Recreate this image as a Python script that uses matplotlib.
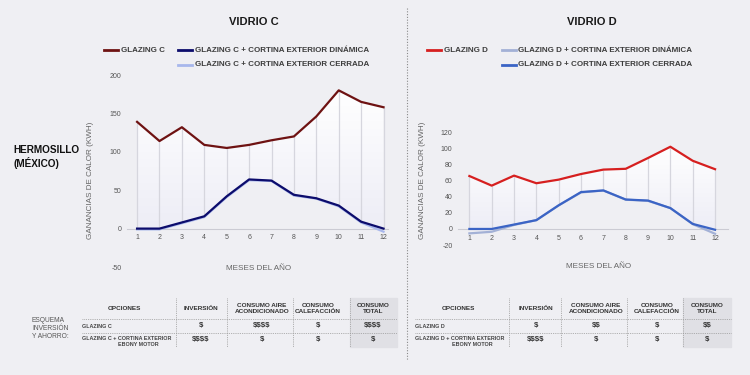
import matplotlib.pyplot as plt
import numpy as np
from matplotlib.colors import LinearSegmentedColormap
from matplotlib.lines import Line2D
from matplotlib.patches import Rectangle

plt.rcParams["font.family"] = ["Liberation Sans", "DejaVu Sans"]
plt.rcParams["text.parse_math"] = False
plt.rcParams["axes.unicode_minus"] = False

months = list(range(1, 13))

# VIDRIO C (kWh)
glazing_c = [139, 114, 132, 109, 105, 109, 115, 120, 146, 180, 165, 158]
dinamica_c = [0, 0, 8, 16, 42, 64, 62.5, 44, 39.5, 30, 9, 0]
cerrada_c = [-1, -1, 7, 15, 41, 63, 62, 43, 39, 29, 8, -4]

# VIDRIO D (kWh)
glazing_d = [66, 54, 66.5, 57, 61.5, 68.5, 74, 75, 88.5, 102.5, 85, 74.5]
dinamica_d = [-5.5, -3.5, 5, 11, 29.5, 45.5, 48, 36.5, 35, 26, 6, -6]
cerrada_d = [0, 0, 5.5, 11, 29.5, 46, 48, 36.7, 35.4, 26, 6.3, -1]

yticks_c = [-50, 0, 50, 100, 150, 200]
yticks_d = [-20, 0, 20, 40, 60, 80, 100, 120]

table_cols = ["OPCIONES", "INVERSIÓN", "CONSUMO AIRE\nACONDICIONADO",
              "CONSUMO\nCALEFACCIÓN", "CONSUMO\nTOTAL"]
rows_c = ["GLAZING C", "GLAZING C + CORTINA EXTERIOR"]
rows_d = ["GLAZING D", "GLAZING D + CORTINA EXTERIOR"]
values_c = [["$", "$$$$", "$", "$$$$"], ["$$$$", "$", "$", "$"]]
values_d = [["$", "$$", "$", "$$"], ["$$$$", "$", "$", "$"]]

BG = "#efeff3"
W, H = 750, 375


def fx(x):
    return x / W


def fy(y):
    return 1 - y / H


def draw_chart(ax, upper, lower_a, lower_b, colors, yticks, xlim, top_first):
    ax.set_facecolor("none")
    for s in ["left", "right", "top"]:
        ax.spines[s].set_visible(False)
    ax.spines["bottom"].set_position(("data", 0))
    ax.spines["bottom"].set_color("#cbcbd3")
    ax.spines["bottom"].set_linewidth(0.8)

    lower = np.array(lower_b if top_first else lower_a)
    up = np.array(upper)
    x = np.array(months)

    # gradient fill between series, clipped to the band
    poly = ax.fill_between(x, lower, up, color="none", lw=0)
    cmap = LinearSegmentedColormap.from_list("band", ["#ededf6", "#ffffff"])
    grad = np.linspace(1, 0, 256).reshape(-1, 1)
    img = ax.imshow(grad, cmap=cmap, aspect="auto", zorder=1,
                    extent=[x[0], x[-1], lower.min(), up.max()])
    img.set_clip_path(poly.get_paths()[0], transform=ax.transData)
    ax.vlines(x, lower, up, color="#d6d6de", lw=0.9, zorder=2)

    if top_first:
        ax.plot(x, lower_a, color=colors[1], lw=1.6, zorder=3)
        ax.plot(x, lower_b, color=colors[2], lw=1.6, zorder=4)
    else:
        ax.plot(x, lower_b, color=colors[2], lw=1.6, zorder=3)
        ax.plot(x, lower_a, color=colors[1], lw=1.6, zorder=4)
    ax.plot(x, up, color=colors[0], lw=1.6, zorder=5)

    ax.set_xlim(*xlim)
    ax.set_ylim(yticks[0], yticks[-1])
    ax.set_xticks(months)
    ax.set_yticks(yticks)
    ax.tick_params(length=0, labelsize=5, labelcolor="#555555")
    ax.tick_params(axis="x", pad=4)
    ax.tick_params(axis="y", pad=4)


fig = plt.figure(figsize=(7.5, 3.75), dpi=100, facecolor=BG)

colors_c = ["#6e1212", "#0c0c6c", "#a8b7ec"]
colors_d = ["#d61f1f", "#a3b1d6", "#3b64c5"]

ax_c = fig.add_axes([fx(127), fy(267), fx(388 - 127), (267 - 75) / H])
draw_chart(ax_c, glazing_c, dinamica_c, cerrada_c, colors_c, yticks_c,
           (0.55, 12.2), top_first=False)
ax_d = fig.add_axes([fx(458), fy(245), fx(728 - 458), (245 - 132.7) / H])
draw_chart(ax_d, glazing_d, dinamica_d, cerrada_d, colors_d, yticks_d,
           (0.49, 12.58), top_first=True)

label_kw = dict(fontsize=5.9, color="#666666", ha="center", va="center")
fig.text(fx(91), fy(180), "GANANCIAS DE CALOR (KWH)", rotation=90, **label_kw)
fig.text(fx(423), fy(180), "GANANCIAS DE CALOR (KWH)", rotation=90, **label_kw)
fig.text(fx(259), fy(268), "MESES DEL AÑO", **label_kw)
fig.text(fx(599), fy(267), "MESES DEL AÑO", **label_kw)

fig.text(fx(254), fy(22), "VIDRIO C", fontsize=8, fontweight="bold",
         color="#1a1a1a", ha="center", va="center")
fig.text(fx(592), fy(22), "VIDRIO D", fontsize=8, fontweight="bold",
         color="#1a1a1a", ha="center", va="center")

fig.text(fx(13), fy(150), "HERMOSILLO", fontsize=7.2, fontweight="bold",
         color="#111111", va="center")
fig.text(fx(13), fy(163), "(MÉXICO)", fontsize=7.2, fontweight="bold",
         color="#111111", va="center")


def legend_entry(x, y, color, text):
    fig.add_artist(Line2D([fx(x), fx(x + 14)], [fy(y), fy(y)], color=color,
                          lw=2, transform=fig.transFigure))
    fig.text(fx(x + 16.5), fy(y), text, fontsize=5.8, fontweight="bold",
             color="#3d3d3d", va="center")


legend_entry(104, 50, colors_c[0], "GLAZING C")
legend_entry(178, 50, colors_c[1], "GLAZING C + CORTINA EXTERIOR DINÁMICA")
legend_entry(178, 65, colors_c[2], "GLAZING C + CORTINA EXTERIOR CERRADA")
legend_entry(427, 50, colors_d[0], "GLAZING D")
legend_entry(502, 50, colors_d[1], "GLAZING D + CORTINA EXTERIOR DINÁMICA")
legend_entry(502, 65, colors_d[2], "GLAZING D + CORTINA EXTERIOR CERRADA")

# divider between the two halves
fig.add_artist(Line2D([fx(407), fx(407)], [fy(8), fy(360)], color="#8a8a8a",
                      lw=0.8, ls=(0, (1, 1.5)), transform=fig.transFigure))

fig.text(fx(32), fy(317), "ESQUEMA\nINVERSIÓN\nY AHORRO:", fontsize=4.8,
         color="#555555", va="top", linespacing=1.2)


def draw_table(x_left, dividers, centers, x_right, rows, values):
    dotted = dict(color="#9a9a9a", lw=0.6, ls=(0, (1, 1.2)),
                  transform=fig.transFigure)
    fig.add_artist(Rectangle((fx(dividers[-1]), fy(347)),
                             fx(x_right - dividers[-1]), (347 - 298) / H,
                             color="#e0e0e5", transform=fig.transFigure,
                             zorder=0))
    for xd in dividers:
        fig.add_artist(Line2D([fx(xd), fx(xd)], [fy(298), fy(347)], **dotted))
    for yl in [319, 333]:
        fig.add_artist(Line2D([fx(x_left), fx(x_right)], [fy(yl), fy(yl)],
                              **dotted))
    head_kw = dict(fontsize=4.6, fontweight="bold", color="#333333",
                   ha="center", va="center", linespacing=1.15)
    for cx, col in zip(centers, table_cols):
        fig.text(fx(cx), fy(308.5), col, **head_kw)
    row_kw = dict(fontsize=3.9, fontweight="bold", color="#444444",
                  va="center")
    fig.text(fx(x_left), fy(326), rows[0], **row_kw)
    fig.text(fx(x_left), fy(339), rows[1], **row_kw)
    fig.text(fx(centers[0] + 14), fy(345), "EBONY MOTOR", ha="center",
             **row_kw)
    val_kw = dict(fontsize=5.6, fontweight="bold", color="#333333",
                  ha="center", va="center")
    for yv, vals in zip([326, 340], values):
        for cx, v in zip(centers[1:], vals):
            fig.text(fx(cx), fy(yv), v, **val_kw)


draw_table(82, [175.5, 227, 293, 350], [124, 201, 262, 318, 373], 397,
           rows_c, values_c)
draw_table(415, [509, 561, 627, 683], [458, 536, 596, 657, 707], 731,
           rows_d, values_d)

fig.savefig("out.png", dpi=100, facecolor=BG)
plt.close(fig)
